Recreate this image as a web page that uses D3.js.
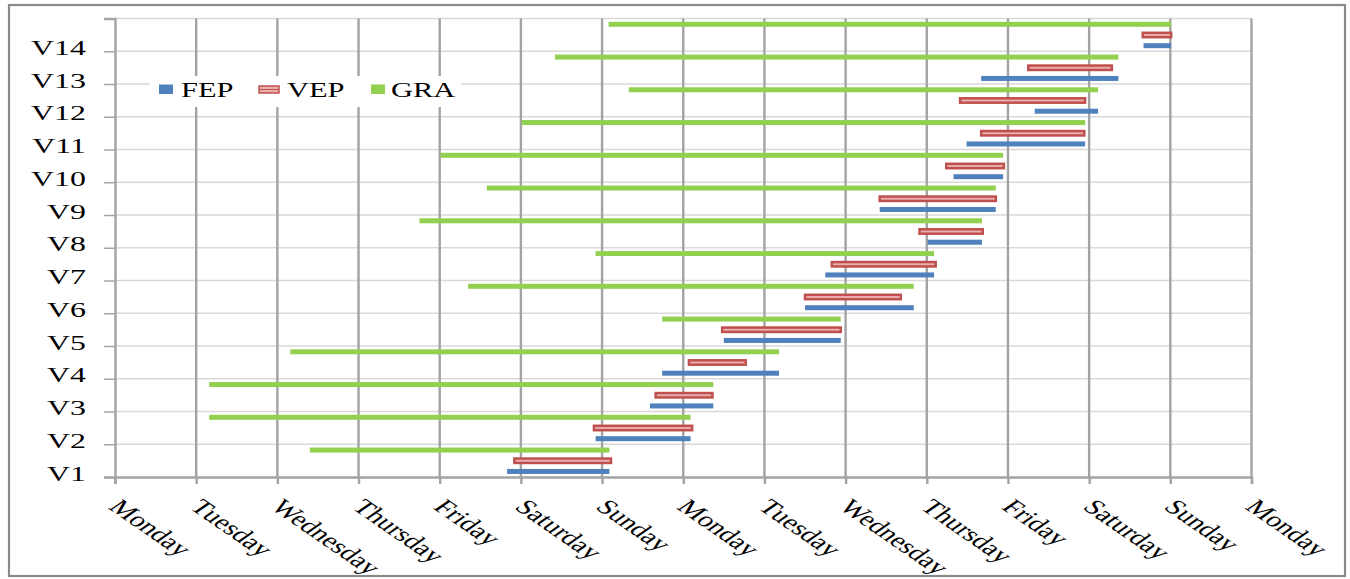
<!DOCTYPE html>
<html>
<head>
<meta charset="utf-8">
<script src="https://cdn.jsdelivr.net/npm/d3@7"></script>
<style>
  body { margin: 0; background: #fff; }
  svg { display: block; }
  text { font-family: "Liberation Serif", "Times New Roman", serif; fill: #000; }
</style>
</head>
<body>
<svg id="chart" width="1350" height="579"></svg>
<script>
// Categories (bottom to top) and the day names along the time axis
const categories = ["V1","V2","V3","V4","V5","V6","V7","V8","V9","V10","V11","V12","V13","V14"];
const dayLabels = ["Monday","Tuesday","Wednesday","Thursday","Friday","Saturday","Sunday",
                   "Monday","Tuesday","Wednesday","Thursday","Friday","Saturday","Sunday","Monday"];

// Start / end of each period, in days counted from the first Monday
const fepStart = [4.83, 5.92, 6.59, 6.74, 7.50, 8.50, 8.75, 10.01, 9.42, 10.33, 10.49, 11.33, 10.67, 12.67];
const fepEnd   = [6.09, 7.09, 7.37, 8.18, 8.94, 9.84, 10.09, 10.68, 10.85, 10.94, 11.95, 12.11, 12.36, 13.01];
const vepStart = [4.92, 5.90, 6.66, 7.07, 7.48, 8.50, 8.83, 9.91, 9.42, 10.24, 10.67, 10.41, 11.25, 12.66];
const vepEnd   = [6.11, 7.11, 7.36, 7.77, 8.94, 9.68, 10.11, 10.69, 10.85, 10.95, 11.94, 11.95, 12.28, 13.01];
const graStart = [2.40, 1.16, 1.16, 2.16, 6.74, 4.35, 5.92, 3.75, 4.58, 4.01, 5.01, 6.33, 5.42, 6.08];
const graEnd   = [6.09, 7.09, 7.37, 8.18, 8.94, 9.84, 10.09, 10.68, 10.85, 10.94, 11.95, 12.11, 12.36, 13.01];

const seriesNames = ["FEP", "VEP", "GRA"];
const seriesColors = { FEP: "#4f81bd", VEP: "#c0504d", GRA: "#92d050" };

const rows = categories.map((c, i) => ({
  cat: c, idx: i + 1,
  FEP: [fepStart[i], fepEnd[i]],
  VEP: [vepStart[i], vepEnd[i]],
  GRA: [graStart[i], graEnd[i]]
}));

const SX = 1.45; // horizontal stretch of the lettering
const svg = d3.select("#chart");

const x = d3.scaleLinear().domain([0, 14]).range([115, 1251.5]);
const y = d3.scaleLinear().domain([1, 15]).range([477, 18.5]);
// position of each series inside its category band (from band top)
const slot = d3.scalePoint().domain(["GRA", "VEP", "FEP"]).range([5.8, 27.2]);

// outer frame
svg.append("rect").attr("x", 9).attr("y", 5).attr("width", 1336).attr("height", 571)
  .attr("fill", "#fff").attr("stroke", "#8a8a8a").attr("stroke-width", 2.2);

// horizontal gridlines
svg.append("g").selectAll("line").data(d3.range(2, 16)).join("line")
  .attr("x1", x(0)).attr("x2", x(14)).attr("y1", d => y(d)).attr("y2", d => y(d))
  .attr("stroke", "#d9d9d9").attr("stroke-width", 1.5);

// vertical gridlines
svg.append("g").selectAll("line").data(d3.range(1, 15)).join("line")
  .attr("x1", d => x(d)).attr("x2", d => x(d)).attr("y1", y(15)).attr("y2", y(1))
  .attr("stroke", "#a3a3a3").attr("stroke-width", 2.4);

// Y axis
const yAxis = svg.append("g").attr("transform", `translate(${x(0)},0)`)
  .call(d3.axisLeft(y).tickValues(d3.range(1, 16)).tickSize(11)
    .tickFormat(d => d <= 14 ? categories[d - 1] : ""));
yAxis.select(".domain").attr("stroke", "#a3a3a3").attr("stroke-width", 2.4);
yAxis.selectAll(".tick line").attr("stroke", "#a6a6a6").attr("stroke-width", 1.5);
yAxis.selectAll(".tick text")
  .attr("x", null).attr("dy", null)
  .attr("transform", `translate(-29,3) scale(${SX},1)`)
  .attr("text-anchor", "end")
  .style("font-size", "22px").style("font-family", "'Liberation Serif', serif").attr("fill", "#000");

// X axis
const xAxis = svg.append("g").attr("transform", `translate(0,${y(1)})`)
  .call(d3.axisBottom(x).tickValues(d3.range(0, 15)).tickSize(7)
    .tickFormat((d, i) => dayLabels[i]));
xAxis.select(".domain").attr("stroke", "#a3a3a3").attr("stroke-width", 2.4);
xAxis.selectAll(".tick line").attr("stroke", "#a3a3a3").attr("stroke-width", 2.4);
xAxis.selectAll(".tick text")
  .attr("y", null).attr("dy", null)
  .attr("transform", `translate(-8,31) scale(${SX},1) rotate(45)`)
  .attr("text-anchor", "start")
  .style("font-size", "21px").style("font-family", "'Liberation Serif', serif").attr("fill", "#000");

// bars
const bars = svg.append("g");
const barH = { GRA: 5, FEP: 5, VEP: 4.4 };
["GRA", "FEP"].forEach(s => {
  bars.append("g").selectAll("rect").data(rows).join("rect")
    .attr("x", d => x(d[s][0]))
    .attr("width", d => x(d[s][1]) - x(d[s][0]))
    .attr("y", d => y(d.idx + 1) + slot(s) - barH[s] / 2)
    .attr("height", barH[s])
    .attr("fill", seriesColors[s]);
});
bars.append("g").selectAll("rect").data(rows).join("rect")
  .attr("x", d => x(d.VEP[0]))
  .attr("width", d => x(d.VEP[1]) - x(d.VEP[0]))
  .attr("y", d => y(d.idx + 1) + slot("VEP") - barH.VEP / 2)
  .attr("height", barH.VEP)
  .attr("fill", "#eab0af")
  .attr("stroke", seriesColors.VEP).attr("stroke-width", 2.5);

// legend
const legend = svg.append("g");
legend.append("rect").attr("x", 150).attr("y", 76).attr("width", 311).attr("height", 31).attr("fill", "#fff");
const legendItems = [
  { name: "FEP", sx: 159, sw: 14, tx: 181 },
  { name: "VEP", sx: 259, sw: 20, tx: 287 },
  { name: "GRA", sx: 371, sw: 14, tx: 391 }
];
legendItems.forEach(it => {
  if (it.name === "VEP") {
    legend.append("rect").attr("x", it.sx).attr("y", 86).attr("width", it.sw).attr("height", 7)
      .attr("fill", "#eab0af").attr("stroke", seriesColors.VEP).attr("stroke-width", 1.5);
    legend.append("line").attr("x1", it.sx + 1).attr("x2", it.sx + it.sw - 1).attr("y1", 89.5).attr("y2", 89.5)
      .attr("stroke", seriesColors.VEP).attr("stroke-width", 1);
  } else {
    legend.append("rect").attr("x", it.sx).attr("y", 84.5).attr("width", it.sw).attr("height", 9.5)
      .attr("fill", seriesColors[it.name]);
  }
  legend.append("text").attr("transform", `translate(${it.tx},97) scale(${SX},1)`)
    .style("font-size", "21px").text(it.name);
});
</script>
</body>
</html>
